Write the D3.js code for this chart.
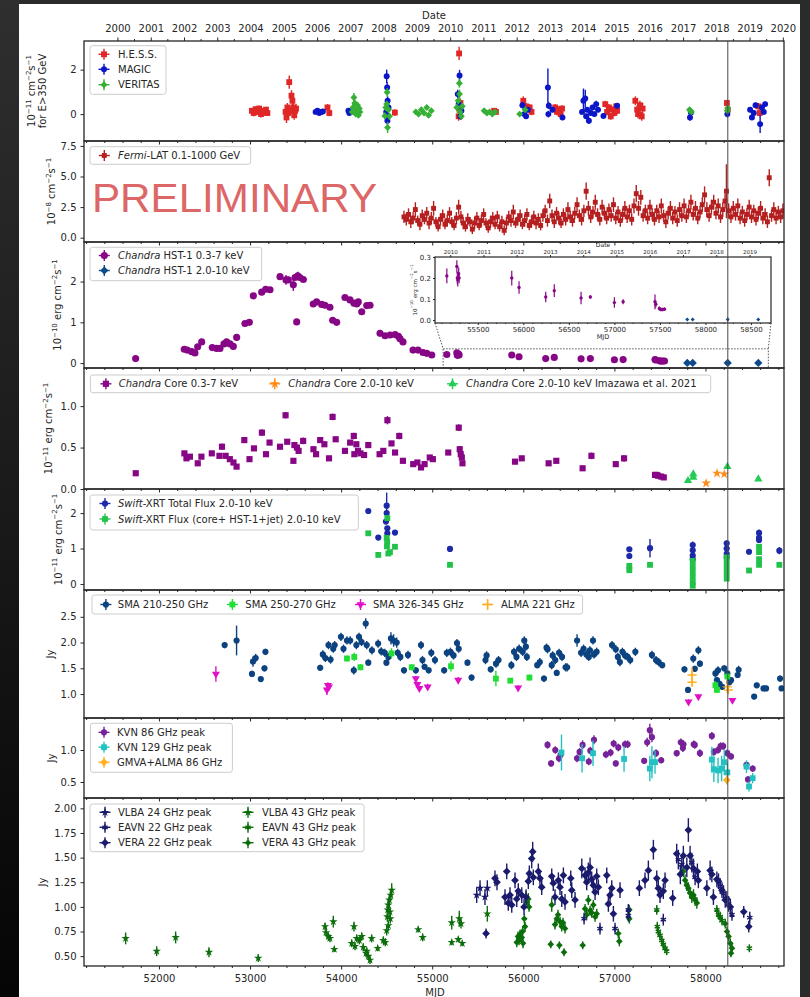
<!DOCTYPE html>
<html>
<head>
<meta charset="utf-8">
<script src="https://cdn.jsdelivr.net/npm/d3@7/dist/d3.min.js"></script>
<style>
  html, body { margin: 0; padding: 0; background: #2b2b2b; }
  svg { display: block; }
</style>
</head>
<body>
<svg id="chart" width="810" height="997"></svg>
<script>
// ---------------- data: [MJD, value, error] ----------------
const hess = [[53020,0.15,0.12],[53040,0.05,0.15],[53060,0.22,0.13],[53080,0.1,0.12],[53100,0.25,0.14],[53120,0.0,0.15],[53140,0.15,0.12],[53160,0.08,0.15],[53175,0.2,0.13],[53190,0.05,0.14],
  [53390,0.1,0.2],[53400,-0.15,0.25],[53410,0.3,0.2],[53420,0.05,0.2],[53430,1.44,0.3],[53440,0.15,0.2],[53455,0.83,0.25],[53465,0.6,0.3],[53475,0.3,0.2],[53485,-0.05,0.2],[53495,0.15,0.2],[53505,0.25,0.22],
  [53850,0.3,0.15],[53870,0.05,0.15],[54590,0.07,0.15],[55295,2.73,0.3],[55300,0.2,0.2],[55310,0.5,0.2],[55290,-0.1,0.2],
  [55680,0.15,0.12],[55700,0.1,0.12],[56000,0.6,0.2],[56030,0.35,0.15],[56070,0.3,0.15],[56090,0.1,0.15],
  [56350,0.3,0.15],[56370,0.1,0.15],[56390,0.2,0.15],[56410,0.0,0.15],[56425,0.25,0.15],
  [56900,0.45,0.15],[56920,0.1,0.15],[56940,0.3,0.15],[56960,-0.1,0.15],[56980,0.2,0.15],[57000,0.05,0.15],[57020,0.35,0.15],[57030,0.15,0.15],
  [57230,0.6,0.2],[57250,0.2,0.2],[57260,0.0,0.2],[57280,0.4,0.2],[57300,-0.1,0.2],[57310,0.25,0.25],
  [58235,0.5,0.15],[58245,0.2,0.15],[58580,0.35,0.15],[58595,0.05,0.15]];
const magic = [[53720,0.1,0.1],[53740,0.15,0.1],[53760,0.05,0.1],[53780,0.1,0.1],[53800,0.12,0.1],[54080,0.15,0.1],[54090,0.05,0.1],
  [54500,1.7,0.3],[54505,1.2,0.25],[54510,0.6,0.2],[54520,0.3,0.15],[54515,-0.08,0.15],[54508,-0.3,0.2],[54495,0.1,0.15],
  [55300,1.74,0.25],[55280,0.9,0.2],[55290,0.45,0.15],[55320,0.15,0.15],[55310,-0.1,0.15],
  [56010,0.0,0.12],[56030,-0.1,0.12],[55990,0.4,0.15],[56050,0.2,0.12],
  [56270,1.2,0.85],[56280,0.38,0.15],[56275,0.0,0.15],[56320,0.2,0.12],[56430,-0.15,0.12],
  [56645,0.1,0.12],[56660,0.6,0.55],[56680,0.7,0.4],[56700,0.2,0.12],[56720,-0.3,0.15],[56740,0.05,0.12],[56760,0.3,0.12],[56780,0.0,0.12],[56800,0.45,0.15],[56820,0.2,0.12],[56690,-0.1,0.12],
  [56880,-0.08,0.12],[57030,0.38,0.12],[57830,-0.15,0.15],[57840,0.07,0.1],[58240,0.0,0.15],
  [58490,0.2,0.12],[58510,-0.15,0.12],[58530,0.05,0.12],[58550,0.4,0.12],[58600,-0.45,0.4],[58620,0.3,0.12],[58640,0.1,0.12],[58655,0.45,0.12]];
const veritas = [[54120,0.1,0.12],[54130,0.3,0.15],[54140,0.75,0.2],[54150,0.5,0.15],[54160,0.0,0.12],[54170,0.2,0.12],[54180,0.4,0.15],[54190,-0.05,0.12],[54200,0.25,0.12],[54207,0.1,0.12],
  [54505,0.98,0.2],[54500,0.45,0.15],[54480,-0.08,0.15],[54520,0.2,0.15],[54510,-0.6,0.25],[54530,-0.1,0.15],[54490,0.3,0.15],
  [54820,0.1,0.1],[54850,0.0,0.1],[54880,0.2,0.1],[54910,0.05,0.1],[54940,0.3,0.1],[54960,-0.05,0.1],[54990,0.15,0.1],
  [55298,1.39,0.2],[55300,0.9,0.2],[55270,0.3,0.15],[55285,0.6,0.15],[55305,0.1,0.15],[55320,-0.1,0.15],[55330,0.35,0.15],
  [55570,0.15,0.1],[55600,0.05,0.1],[55630,0.1,0.1],[55660,0.0,0.1],[55690,0.1,0.1],[55960,0.0,0.1],[56020,0.2,0.1],
  [57835,0.15,0.1],[57845,0.1,0.1],[57825,0.2,0.1],[58245,0.27,0.1],[58240,0.15,0.1]];

const fermi = [[54690,1.7,0.5],[54715,1.5,0.5],[54740,1.9,0.5],[54765,1.3,0.5],[54790,1.6,0.5],[54815,2.3,0.6],[54840,1.4,0.4],[54865,1.1,0.5],[54890,1.8,0.5],[54915,1.5,0.4],
  [54940,2.0,0.5],[54965,1.2,0.5],[54990,1.6,0.5],[55015,2.4,0.6],[55040,1.3,0.4],[55065,0.9,0.4],[55090,1.5,0.5],[55115,1.8,0.5],[55140,1.1,0.4],[55165,1.4,0.5],
  [55190,2.0,0.5],[55215,1.3,0.4],[55240,1.0,0.4],[55265,1.6,0.5],[55290,2.5,0.6],[55315,1.7,0.5],[55340,1.2,0.5],[55365,0.9,0.4],[55390,1.5,0.5],[55415,1.3,0.4],
  [55440,0.7,0.4],[55465,1.2,0.5],[55490,1.6,0.5],[55515,1.0,0.4],[55540,1.4,0.5],[55565,1.9,0.5],[55590,1.2,0.4],[55615,0.8,0.4],[55640,1.3,0.5],[55665,1.6,0.5],
  [55690,1.1,0.4],[55715,1.7,0.5],[55740,0.9,0.4],[55765,1.3,0.5],[55790,0.6,0.4],[55815,1.2,0.5],[55840,1.7,0.5],[55865,1.4,0.5],[55890,2.1,0.6],[55915,1.2,0.4],
  [55940,1.5,0.5],[55965,1.8,0.5],[55990,1.1,0.4],[56015,1.4,0.5],[56040,1.9,0.5],[56065,1.0,0.4],[56090,1.3,0.5],[56115,1.7,0.5],[56140,1.2,0.5],[56165,1.5,0.5],
  [56190,1.0,0.4],[56215,1.8,0.5],[56240,2.2,0.5],[56265,1.4,0.5],[56290,3.0,0.6],[56315,1.8,0.5],[56340,1.3,0.5],[56365,2.0,0.5],[56390,1.6,0.5],[56415,1.2,0.4],
  [56440,1.9,0.5],[56465,1.5,0.5],[56490,2.3,0.6],[56515,1.7,0.5],[56540,1.4,0.5],[56565,2.0,0.5],[56590,2.7,0.6],[56615,1.8,0.5],[56640,1.5,0.5],[56665,2.2,0.5],
  [56690,3.8,0.7],[56715,2.4,0.6],[56740,1.7,0.5],[56765,2.1,0.5],[56790,2.9,0.6],[56815,1.9,0.5],[56840,1.5,0.5],[56865,2.5,0.6],[56890,2.0,0.5],[56915,1.6,0.5],
  [56940,2.3,0.5],[56965,1.8,0.5],[56990,2.7,0.6],[57015,1.6,0.5],[57040,2.1,0.5],[57065,1.4,0.5],[57090,1.9,0.5],[57115,2.4,0.6],[57140,1.7,0.5],[57165,2.2,0.5],
  [57190,1.5,0.5],[57215,2.6,0.6],[57240,3.6,0.7],[57265,2.4,0.6],[57290,3.3,0.6],[57315,1.8,0.5],[57340,2.2,0.5],[57365,1.6,0.5],[57390,2.5,0.6],[57415,1.9,0.5],
  [57440,1.5,0.5],[57465,2.2,0.5],[57490,1.7,0.5],[57515,2.6,0.6],[57540,1.8,0.5],[57565,1.3,0.5],[57590,2.0,0.5],[57615,2.4,0.6],[57640,1.6,0.5],[57665,2.1,0.5],
  [57690,1.4,0.5],[57715,2.3,0.6],[57740,1.8,0.5],[57765,2.6,0.6],[57790,1.7,0.5],[57815,2.2,0.5],[57840,2.9,0.6],[57865,1.9,0.5],[57890,2.4,0.6],[57915,1.6,0.5],
  [57940,2.1,0.5],[57965,2.7,0.6],[57990,3.5,0.7],[58015,2.3,0.6],[58040,1.8,0.5],[58065,2.5,0.6],[58090,2.9,0.6],[58115,2.0,0.5],[58140,2.6,0.6],[58165,1.7,0.5],
  [58190,2.3,0.6],[58215,3.0,0.6],[58230,3.8,2.2],[58255,2.2,0.6],[58280,1.7,0.5],[58305,2.4,0.6],[58330,1.9,0.5],[58355,2.6,0.6],[58380,1.6,0.5],[58405,2.1,0.5],
  [58430,1.4,0.5],[58455,1.9,0.5],[58480,2.5,0.6],[58505,1.7,0.5],[58530,2.2,0.5],[58555,1.5,0.5],[58580,2.0,0.5],[58605,2.4,0.6],[58630,1.6,0.5],[58655,1.9,0.5],
  [58680,1.3,0.5],[58700,4.9,0.7],[58725,1.8,0.5],[58750,2.3,0.6],[58775,1.6,0.5],[58800,2.1,0.5],[58825,1.7,0.5],[58850,2.2,0.6]];

const hst1Soft = [[51744,0.11,0.01],[52278,0.34,0.02],[52311,0.32,0.02],[52359,0.28,0.02],[52395,0.25,0.02],[52425,0.40,0.02],[52469,0.52,0.02],
  [52585,0.38,0.02],[52633,0.36,0.02],[52670,0.36,0.02],[52714,0.47,0.02],[52743,0.52,0.02],[52780,0.47,0.02],[52816,0.41,0.02],[52853,0.63,0.02],
  [52944,0.97,0.03],[52992,1.0,0.03],[53036,1.65,0.03],[53128,1.74,0.03],[53172,1.81,0.03],[53219,1.8,0.03],[53329,2.12,0.03],[53395,2.04,0.12],[53420,2.04,0.05],
  [53475,1.92,0.15],[53494,2.1,0.05],[53524,2.14,0.1],[53548,2.1,0.04],[53585,2.05,0.04],[53512,1.01,0.03],[53694,1.45,0.03],[53731,1.5,0.03],[53786,1.44,0.03],
  [53822,1.42,0.03],[53877,1.37,0.03],[53907,1.05,0.03],[53951,1.0,0.03],[54042,1.61,0.03],[54097,1.55,0.03],[54141,1.47,0.03],[54171,1.45,0.03],[54188,1.5,0.03],
  [54226,1.26,0.03],[54281,1.41,0.03],[54317,1.42,0.03],[54427,0.73,0.02],[54482,0.67,0.02],[54537,0.69,0.02],[54592,0.70,0.02],[54629,0.66,0.02],
  [54646,0.60,0.02],[54679,0.52,0.02],[54789,0.32,0.02],[54844,0.32,0.02],[54899,0.26,0.02],[54940,0.24,0.02],[54995,0.20,0.02],
  [55160,0.21,0.035],[55270,0.255,0.03],[55275,0.20,0.03],[55280,0.19,0.03],[55290,0.22,0.03],[55295,0.20,0.025],[55873,0.20,0.035],[55953,0.155,0.03],
  [56246,0.11,0.025],[56340,0.14,0.03],[56634,0.105,0.03],[56736,0.11,0.008],[57000,0.083,0.025],[57096,0.087,0.012],[57446,0.087,0.035],[57455,0.075,0.015],
  [57494,0.055,0.01],[57510,0.05,0.008],[57530,0.05,0.008],[57550,0.052,0.008]];
const hst1Hard = [[57800,0.003,0.002],[57860,0.003,0.002],[58244,0.003,0.01],[58580,0.003,0.002]];

const coreSoft = [[51745,0.19,0.03],[52279,0.43,0.03],[52302,0.37,0.03],[52340,0.39,0.03],[52426,0.31,0.03],[52466,0.39,0.03],[52580,0.43,0.03],[52664,0.40,0.03],
  [52692,0.51,0.04],[52732,0.40,0.03],[52778,0.36,0.03],[52818,0.32,0.03],[52852,0.27,0.03],[52937,0.59,0.03],[52994,0.36,0.03],[53043,0.49,0.03],[53130,0.68,0.04],
  [53175,0.42,0.03],[53214,0.56,0.03],[53329,0.51,0.03],[53390,0.89,0.04],[53408,0.57,0.03],[53476,0.34,0.03],[53487,0.53,0.03],[53515,0.50,0.03],[53533,0.46,0.03],
  [53583,0.58,0.04],[53696,0.48,0.03],[53725,0.42,0.03],[53770,0.59,0.03],[53816,0.54,0.03],[53867,0.37,0.03],[53906,0.87,0.04],[53940,0.60,0.03],[54042,0.46,0.03],
  [54099,0.56,0.03],[54139,0.64,0.04],[54167,0.54,0.03],[54145,0.42,0.03],[54185,0.46,0.03],[54212,0.43,0.03],[54252,0.41,0.03],[54298,0.53,0.03],[54422,0.42,0.03],
  [54463,0.46,0.03],[54508,0.83,0.05],[54553,0.55,0.03],[54592,0.44,0.03],[54638,0.64,0.04],[54678,0.34,0.03],[54791,0.30,0.03],[54837,0.32,0.03],[54877,0.26,0.03],
  [54916,0.30,0.03],[54973,0.38,0.03],[55007,0.36,0.03],[55176,0.44,0.03],[55291,0.74,0.04],[55302,0.48,0.04],[55313,0.42,0.04],[55325,0.38,0.03],[55332,0.31,0.03],
  [55909,0.33,0.03],[55983,0.37,0.03],[56278,0.31,0.03],[56362,0.34,0.03],[56651,0.25,0.03],[56748,0.40,0.04],[57015,0.30,0.03],[57106,0.37,0.04],
  [57446,0.17,0.03],[57463,0.17,0.03],[57479,0.16,0.03],[57514,0.15,0.03],[57542,0.14,0.03]];
const coreHard = [[58007,0.07,0.02],[58126,0.19,0.02],[58206,0.18,0.02]];
const coreImazawa = [[57808,0.10,0.01],[57866,0.18,0.02],[57866,0.14,0.02],[58240,0.27,0.02],[58580,0.12,0.01]];

const swiftTotal = [[54298,2.06,0.03],[54408,1.31,0.03],[54500,2.21,0.37],[54500,2.0,0.05],[54492,1.76,0.05],[54507,1.57,0.05],[54507,1.43,0.05],[54591,1.45,0.05],
  [55195,0.99,0.03],[57164,0.98,0.05],[57164,0.79,0.05],[57391,1.01,0.26],[57860,1.1,0.1],[57860,0.95,0.05],[57860,0.8,0.05],[57860,0.7,0.05],
  [58233,1.15,0.08],[58233,1.0,0.05],[58233,0.85,0.05],[58233,0.75,0.05],[58478,0.91,0.05],[58588,1.44,0.1],[58588,1.3,0.06],[58588,1.24,0.06],[58811,0.94,0.1]];
const swiftSum = [[54298,1.43,0.03],[54408,0.82,0.03],[54507,1.86,0.05],[54500,1.3,0.05],[54503,1.06,0.05],[54505,1.2,0.05],[54518,0.86,0.05],[54536,0.9,0.05],[54591,1.05,0.05],
  [55195,0.54,0.03],[57164,0.51,0.05],[57164,0.39,0.05],[57391,0.54,0.05],[57860,0.65,0.05],[57860,0.5,0.05],[57860,0.35,0.05],[57860,0.2,0.05],[57860,0.05,0.05],[57860,-0.05,0.05],
  [58233,0.75,0.05],[58233,0.6,0.05],[58233,0.45,0.05],[58233,0.3,0.05],[58233,0.15,0.05],[58478,0.38,0.03],[58588,1.05,0.06],[58588,0.9,0.06],[58588,0.7,0.06],[58588,0.54,0.05],[58811,0.54,0.03]];

const sma230 = [[52721,1.95,0.06],[52852,2.04,0.29],[53021,1.39,0.06],[53032,1.63,0.1],[53062,1.70,0.08],[53118,1.29,0.05],[53158,1.50,0.06],[53169,1.82,0.06],
  [53770,1.51,0.06],[53799,1.77,0.08],[53827,1.70,0.08],[53861,1.95,0.08],[53884,1.67,0.08],[53913,1.88,0.08],[53929,1.95,0.08],[53998,2.11,0.08],[54026,1.88,0.08],
  [54064,2.04,0.08],[54099,2.04,0.08],[54139,1.46,0.08],[54167,1.95,0.08],[54196,2.11,0.08],[54224,2.01,0.08],[54270,2.37,0.1],[54281,1.95,0.08],[54298,1.61,0.06],
  [54338,1.85,0.08],[54406,1.98,0.08],[54440,1.83,0.08],[54479,1.80,0.08],[54497,1.61,0.06],[54519,1.72,0.08],[54547,2.08,0.12],[54576,2.04,0.12],[54610,2.00,0.1],
  [54621,1.80,0.08],[54650,1.72,0.08],[54690,1.46,0.06],[54734,1.76,0.08],[54820,1.46,0.06],[54877,1.95,0.08],[54893,1.66,0.08],[54916,1.53,0.06],[54961,1.46,0.06],
  [54990,1.80,0.08],[55030,1.66,0.08],[55131,1.46,0.06],[55160,1.80,0.08],[55200,1.82,0.08],[55234,1.75,0.08],[55272,1.99,0.08],[55291,1.88,0.08],[55387,1.61,0.06],
  [55432,1.32,0.06],[55585,1.66,0.08],[55597,1.75,0.08],[55642,1.48,0.06],[55700,1.59,0.08],[55728,1.66,0.08],[55869,1.56,0.08],[55898,1.82,0.08],[55925,1.72,0.08],
  [55954,1.88,0.08],[55993,1.82,0.08],[56011,2.04,0.08],[56028,1.92,0.08],[56039,1.72,0.08],[56153,1.56,0.06],[56181,1.62,0.08],[56227,1.30,0.06],[56255,1.90,0.08],
  [56266,1.87,0.08],[56312,1.56,0.08],[56322,1.75,0.08],[56351,1.66,0.08],[56367,1.41,0.06],[56392,1.80,0.08],[56425,1.72,0.08],[56464,1.52,0.08],[56481,1.52,0.08],
  [56590,2.04,0.12],[56634,1.80,0.08],[56662,1.88,0.08],[56692,1.77,0.08],[56719,1.72,0.08],[56731,1.85,0.08],[56765,2.04,0.08],[56776,1.77,0.08],[56805,1.82,0.08],
  [56974,1.95,0.08],[57015,1.87,0.08],[57038,1.72,0.08],[57060,1.62,0.08],[57088,1.82,0.08],[57117,1.75,0.08],[57145,1.72,0.08],[57174,1.66,0.08],[57230,1.82,0.08],
  [57412,1.76,0.08],[57457,1.66,0.08],[57486,1.62,0.08],[57525,1.56,0.06],[57769,1.48,0.06],[57808,1.08,0.05],[57866,1.69,0.08],[57883,1.49,0.06],[57922,1.85,0.08],
  [57939,1.59,0.06],[58109,1.40,0.08],[58126,1.27,0.06],[58138,1.46,0.08],[58154,1.20,0.06],[58183,1.14,0.06],[58206,1.50,0.06],[58240,1.40,0.06],[58262,1.23,0.06],
  [58280,1.27,0.06],[58353,1.37,0.06],[58364,1.47,0.08],[58534,0.95,0.05],[58563,1.17,0.05],[58637,1.11,0.05],[58665,1.11,0.05],[58819,1.30,0.06],[58835,1.11,0.05]];
const sma260 = [[54064,1.69,0.06],[54144,1.72,0.08],[54212,1.52,0.06],[54553,1.79,0.1],[54775,1.52,0.06],[55206,1.54,0.1],[55699,1.30,0.15],[55857,1.26,0.05],
  [56067,1.32,0.06],[58109,1.17,0.08],[58126,1.08,0.06],[58240,1.34,0.06]];
const sma345 = [[52625,1.39,0.15],[53855,1.17,0.06],[53866,1.14,0.06],[53844,1.08,0.1],[54820,1.30,0.05],[54837,1.19,0.05],[54859,1.11,0.05],[54950,1.14,0.06],
  [55285,1.27,0.06],[55943,1.12,0.05],[57814,0.85,0.05],[57922,0.95,0.04],[58296,0.88,0.04]];
const alma221 = [[57853,1.37,0.15],[57853,1.23,0.08],[58240,1.14,0.12],[58251,1.08,0.06]];

const kvn86 = [[56266,1.08,0.06],[56305,0.79,0.05],[56351,1.0,0.06],[56391,0.87,0.06],[56408,0.92,0.06],[56590,0.87,0.06],[56618,0.97,0.06],[56651,1.08,0.07],
  [56719,0.82,0.06],[56736,0.99,0.06],[56776,1.16,0.07],[56907,0.93,0.06],[56958,0.96,0.06],[56992,1.1,0.06],[57015,0.79,0.05],[57043,1.04,0.06],[57117,1.09,0.06],
  [57145,1.09,0.06],[57327,0.83,0.05],[57360,1.12,0.07],[57389,1.31,0.1],[57412,1.2,0.08],[57457,0.95,0.06],[57514,0.84,0.05],[57684,0.95,0.05],[57729,1.12,0.06],
  [57752,1.03,0.06],[57758,1.09,0.06],[57871,1.09,0.06],[57882,1.08,0.06],[57939,0.95,0.06],[58070,1.22,0.06],[58092,0.97,0.06],[58138,1.0,0.06],[58166,1.06,0.06],
  [58194,1.06,0.06],[58240,0.95,0.06],[58280,0.9,0.05],[58450,0.77,0.05],[58467,0.54,0.05],[58518,0.71,0.05]];
const kvn129 = [[56419,0.96,0.28],[56645,0.87,0.22],[56765,0.95,0.2],[57106,0.86,0.2],[57389,0.71,0.2],[57412,0.81,0.25],[57446,0.81,0.18],[58070,0.85,0.2],
  [58092,0.70,0.2],[58138,0.68,0.2],[58177,0.71,0.2],[58206,0.81,0.2],[58240,0.65,0.15],[58450,0.74,0.1],[58478,0.43,0.08],[58518,0.56,0.08]];
const gmva86 = [[58234,0.53,0.07]];

const vlba24 = [[55488,1.12,0.08],[55525,1.19,0.08],[55579,1.10,0.08],[55605,1.19,0.08]];
const eavn22 = [[56667,0.88,0.06],[56842,0.78,0.06],[57007,0.78,0.06],[57153,0.97,0.06],[57153,0.91,0.06],[57537,0.87,0.06],[57702,1.48,0.1],[57740,1.43,0.1],
  [57850,1.45,0.1],[57886,1.30,0.08],[58162,1.21,0.08],[58198,1.14,0.08],[58254,1.03,0.08],[58291,0.92,0.06],[58486,0.89,0.06]];
const vera22 = [[55591,0.73,0.05],[55689,1.29,0.08],[55711,1.25,0.08],[55818,1.36,0.08],[55799,1.10,0.08],[55835,1.04,0.08],[55854,1.12,0.08],[55873,1.02,0.08],
  [55909,1.27,0.08],[55928,1.08,0.08],[55945,1.16,0.08],[55983,1.12,0.08],[56008,1.0,0.08],[56030,1.10,0.08],[56055,1.26,0.08],[56066,1.34,0.08],[56092,1.49,0.1],
  [56103,1.56,0.1],[56110,1.30,0.08],[56165,1.36,0.08],[56183,1.29,0.08],[56202,1.20,0.08],[56312,1.31,0.08],[56329,1.24,0.08],[56348,1.10,0.08],[56385,1.27,0.08],
  [56403,1.20,0.08],[56422,1.08,0.08],[56440,1.32,0.08],[56458,1.05,0.08],[56521,1.29,0.08],[56532,1.17,0.08],[56568,1.07,0.08],[56642,1.39,0.1],[56678,1.32,0.08],
  [56696,1.25,0.08],[56714,1.35,0.1],[56733,1.40,0.1],[56751,1.28,0.08],[56769,1.22,0.08],[56788,1.15,0.08],[56806,1.31,0.08],[56824,1.20,0.08],[56916,1.32,0.08],
  [56934,1.03,0.08],[56952,1.12,0.08],[56971,1.19,0.08],[56989,0.93,0.08],[57062,1.17,0.08],[57274,1.19,0.08],[57336,1.27,0.08],[57373,1.37,0.1],[57428,1.58,0.1],
  [57465,1.29,0.08],[57482,1.19,0.08],[57501,1.12,0.08],[57537,1.16,0.08],[57556,1.27,0.08],[57640,1.09,0.08],[57684,1.54,0.1],[57724,1.33,0.1],[57757,1.52,0.1],
  [57795,1.40,0.1],[57812,1.78,0.12],[57831,1.52,0.1],[57868,1.39,0.1],[57911,1.36,0.08],[57922,1.27,0.08],[58015,1.19,0.08],[58051,1.37,0.1],[58070,1.33,0.08],
  [58087,1.10,0.08],[58125,1.28,0.08],[58143,1.26,0.08],[58181,1.17,0.08],[58217,1.07,0.08],[58236,1.08,0.08],[58273,1.0,0.08],[58420,0.95,0.06],[58475,0.80,0.06]];
const vlba43 = [[51634,0.68,0.06],[51975,0.55,0.05],[52183,0.69,0.06],[52549,0.54,0.05],[53090,0.48,0.04],[53823,0.80,0.04],[53834,0.74,0.04],[53859,0.70,0.04],
  [53877,0.68,0.04],[53914,0.85,0.06],[53925,0.57,0.03],[54141,0.80,0.05],[54116,0.63,0.04],[54152,0.60,0.04],[54171,0.68,0.04],[54200,0.66,0.04],[54226,0.70,0.04],
  [54243,0.59,0.04],[54273,0.53,0.04],[54281,0.55,0.04],[54298,0.50,0.04],[54317,0.46,0.04],[54335,0.68,0.04],[54401,0.58,0.03],[54463,0.66,0.04],[54485,0.64,0.04],
  [54500,0.76,0.05],[54507,0.90,0.05],[54511,0.97,0.05],[54518,1.02,0.05],[54529,1.07,0.06],[54544,1.12,0.06],[54555,1.17,0.07],[54536,0.95,0.05],[54540,0.88,0.05],
  [54518,0.81,0.05],[54846,0.77,0.03],[54895,0.69,0.04],[55214,0.84,0.07],[55214,0.64,0.03],[55297,0.88,0.08],[55316,0.83,0.05],[55286,0.67,0.03],[55330,0.63,0.03],[55605,0.93,0.08]];
const eavn43 = [[57465,0.97,0.05],[57471,0.80,0.05],[57482,0.75,0.05],[57501,0.71,0.05],[57520,0.66,0.05],[57537,0.62,0.05],[57556,0.58,0.05],[57574,0.55,0.04],
  [58125,0.97,0.05],[58143,0.92,0.05],[58162,0.90,0.05],[58181,0.86,0.05],[58482,0.58,0.04]];
const vera43 = [[55928,0.64,0.05],[55942,0.70,0.05],[55953,0.66,0.05],[55964,0.72,0.05],[55983,0.69,0.05],[55992,0.75,0.05],[55997,0.63,0.05],[56011,0.88,0.05],
  [56019,0.80,0.05],[56030,1.10,0.06],[56041,1.05,0.06],[56055,1.08,0.06],[56063,1.0,0.05],[56312,1.02,0.07],[56301,0.62,0.04],[56396,0.61,0.04],[56447,0.54,0.04],
  [56348,0.82,0.05],[56367,0.88,0.05],[56381,0.92,0.05],[56403,0.85,0.05],[56422,0.80,0.05],[56436,0.84,0.05],[56458,0.78,0.05],[56652,0.61,0.04],[56678,0.98,0.05],
  [56696,0.92,0.05],[56714,1.07,0.05],[56733,0.96,0.05],[56751,0.94,0.05],[56769,1.02,0.05],[56788,0.90,0.05],[56806,0.93,0.05],[57043,0.73,0.05],[57054,0.65,0.05],
  [57164,0.97,0.05],[57164,0.88,0.05],[57757,1.36,0.06],[57776,1.27,0.06],[57795,1.22,0.06],[57812,1.19,0.06],[57831,1.14,0.06],[57850,1.10,0.06],[57868,1.12,0.06],
  [57886,1.07,0.06],[57905,1.04,0.06],[58217,0.83,0.05],[58236,0.75,0.05],[58254,0.70,0.05],[58273,0.63,0.05],[58291,0.58,0.05],[58280,0.53,0.04]];

// ---------------- axis ticks ----------------
const yearLabels = ['2000','2001','2002','2003','2004','2005','2006','2007','2008','2009','2010','2011','2012','2013','2014','2015','2016','2017','2018','2019','2020'];
const yearMJD = [51544,51910,52275,52640,53005,53371,53736,54101,54466,54832,55197,55562,55927,56293,56658,57023,57388,57754,58119,58484,58849];
const mjdMajor = [52000,53000,54000,55000,56000,57000,58000];
const insetMJD = [55500,56000,56500,57000,57500,58000,58500];
const insetYears = ['2010','2011','2012','2013','2014','2015','2016','2017','2018','2019'];
const insetYearMJD = [55197,55562,55927,56293,56658,57023,57388,57754,58119,58484];
const yTicks = [[0,2],[0,2.5,5,7.5],[0,1,2],[0,0.5,1],[0,1,2],[1,1.5,2,2.5],[0.5,1],[0.5,0.75,1,1.25,1.5,1.75,2]];
const yLabels = [['10^{−11} cm^{−2}s^{−1}','for E>350 GeV'],['10^{−8} cm^{−2}s^{−1}'],['10^{−10} erg cm^{−2}s^{−1}'],['10^{−11} erg cm^{−2}s^{−1}'],
  ['10^{−11} erg cm^{−2}s^{−1}'],['Jy'],['Jy'],['Jy']];
const campaignMJD = 58245;

// ---------------- drawing ----------------
const FONT = '"DejaVu Sans", sans-serif';
const INK = '#262626';
const svg = d3.select('#chart');
const defs = svg.append('defs');
const edge = defs.append('linearGradient').attr('id', 'edge').attr('x1', 0).attr('y1', 0).attr('x2', 0).attr('y2', 1);
edge.append('stop').attr('offset', '0').attr('stop-color', '#2f2f2f');
edge.append('stop').attr('offset', '1').attr('stop-color', '#050505');
svg.append('rect').attr('width', 810).attr('height', 997).attr('fill', '#2b2b2b');
svg.append('rect').attr('width', 19).attr('height', 997).attr('fill', 'url(#edge)');
svg.append('rect').attr('x', 19).attr('y', 4).attr('width', 781).attr('height', 993).attr('fill', '#ffffff');

const x = d3.scaleLinear().domain([51177, 58862]).range([84, 784]);
const tops = [41, 141, 242, 368, 489, 590, 718, 798, 966];
const domains = [[-1.21, 3.29], [-0.35, 7.9], [-0.12, 2.97], [0, 1.46], [-0.17, 2.68], [0.535, 3.02], [0.25, 1.5], [0.40, 2.105]];
const formats = ['d', '.1f', 'd', '.1f', 'd', '.1f', '.1f', '.2f'];
const labelX = [[35, 45.5], [55], [61], [52], [61.5], [54.4], [54.6], [45.6]];

const SYM = { circle: d3.symbolCircle, square: d3.symbolSquare, D: d3.symbolSquare, tri: d3.symbolTriangle,
  triDown: d3.symbolTriangle, star: d3.symbolStar, asterisk: d3.symbolAsterisk, plus: d3.symbolPlus };

function drawMarker(sel, st) {
  const rot = st.shape === 'D' ? 45 : st.shape === 'triDown' ? 180 : 0;
  const stroked = st.shape === 'asterisk' || st.shape === 'plus';
  sel.attr('d', d3.symbol(SYM[st.shape], st.size)())
    .attr('fill', stroked ? 'none' : st.color)
    .attr('stroke', stroked ? st.color : 'none').attr('stroke-width', 1.4);
  return rot;
}

function series(g, xs, ys, data, st) {
  const s = g.append('g');
  s.selectAll('line.ey').data(data.filter(d => d[2])).join('line').attr('class', 'ey')
    .attr('x1', d => xs(d[0])).attr('x2', d => xs(d[0]))
    .attr('y1', d => ys(d[1] - d[2])).attr('y2', d => ys(d[1] + d[2]))
    .attr('stroke', st.color).attr('stroke-width', st.ew || 1.4);
  if (st.xerr) {
    s.selectAll('line.ex').data(data).join('line').attr('class', 'ex')
      .attr('x1', d => xs(d[0] - st.xerr)).attr('x2', d => xs(d[0] + st.xerr))
      .attr('y1', d => ys(d[1])).attr('y2', d => ys(d[1]))
      .attr('stroke', st.color).attr('stroke-width', st.ew || 1.4);
  }
  const m = s.selectAll('path').data(data).join('path');
  const rot = drawMarker(m, st);
  m.attr('transform', d => `translate(${xs(d[0])},${ys(d[1])}) rotate(${rot})`);
}

function richText(t, str, supSize) {
  const parts = str.split(/\^\{([^}]*)\}/);
  parts.forEach((p, i) => {
    if (!p) return;
    if (i % 2) {
      t.append('tspan').attr('dy', -4.2).attr('font-size', supSize).text(p);
    } else {
      const sp = t.append('tspan').text(p);
      if (i > 0) sp.attr('dy', 4.2);
    }
  });
}

function legend(g, box, items) {
  g.append('rect').attr('x', box[0]).attr('y', box[1]).attr('width', box[2]).attr('height', box[3])
    .attr('rx', 2.5).attr('fill', '#fff').attr('fill-opacity', 0.85).attr('stroke', '#cccccc').attr('stroke-width', 1);
  items.forEach(it => {
    const [mx, my, tx] = it.pos;
    const st = it.st;
    g.append('line').attr('x1', mx - 5.5).attr('x2', mx + 5.5).attr('y1', my).attr('y2', my).attr('stroke', st.color).attr('stroke-width', 1.4);
    g.append('line').attr('x1', mx).attr('x2', mx).attr('y1', my - 5.5).attr('y2', my + 5.5).attr('stroke', st.color).attr('stroke-width', 1.4);
    const m = g.append('path');
    const rot = drawMarker(m, st);
    m.attr('transform', `translate(${mx},${my}) rotate(${rot})`);
    const t = g.append('text').attr('x', tx).attr('y', my + 3.6).attr('font-size', 10).attr('fill', INK).attr('font-family', FONT);
    it.label.forEach(([s, ital]) => t.append('tspan').attr('font-style', ital ? 'italic' : 'normal').text(s));
  });
}

function styleAxis(ax, size) {
  ax.select('.domain').remove();
  ax.selectAll('line').attr('stroke', INK).attr('stroke-width', 1);
  ax.selectAll('text').attr('font-family', FONT).attr('font-size', size).attr('fill', INK);
  ax.attr('font-family', FONT);
}

const ys = [];
const panelG = [];
for (let i = 0; i < 8; i++) {
  const y0 = tops[i], y1 = tops[i + 1];
  const y = d3.scaleLinear().domain(domains[i]).range([y1, y0]);
  ys.push(y);
  const g = svg.append('g');
  panelG.push(g);
  defs.append('clipPath').attr('id', 'clip' + i).append('rect').attr('x', 84).attr('y', y0).attr('width', 700).attr('height', y1 - y0);

  const ay = g.append('g').attr('transform', 'translate(84,0)')
    .call(d3.axisLeft(y).tickValues(yTicks[i]).tickFormat(d3.format(formats[i])).tickSize(3.5).tickPadding(4));
  styleAxis(ay, 10);
  const minor = d3.range(51200, 58862, 200).filter(v => v % 1000 !== 0);
  const axm = g.append('g').attr('transform', `translate(0,${y1})`)
    .call(d3.axisBottom(x).tickValues(minor).tickFormat('').tickSize(2));
  styleAxis(axm, 10);
  const axM = g.append('g').attr('transform', `translate(0,${y1})`)
    .call(d3.axisBottom(x).tickValues(mjdMajor).tickFormat(i === 7 ? d3.format('d') : () => '').tickSize(3.5).tickPadding(4.9));
  styleAxis(axM, 10);

  yLabels[i].forEach((lab, k) => {
    const bx = labelX[i][k], cy = (y0 + y1) / 2;
    const t = g.append('text').attr('x', bx).attr('y', cy).attr('text-anchor', 'middle')
      .attr('transform', `rotate(-90,${bx},${cy})`).attr('font-family', FONT).attr('font-size', 10).attr('fill', INK);
    richText(t, lab, 7);
  });
  g.append('g').attr('class', 'data').attr('clip-path', `url(#clip${i})`);
}

// top date axis
const topMinor = yearMJD.slice(0, -1).map(v => v + 182);
const at = svg.append('g').attr('transform', 'translate(0,41)')
  .call(d3.axisTop(x).tickValues(yearMJD).tickFormat((d, k) => yearLabels[k]).tickSize(3.5).tickPadding(6));
styleAxis(at, 10);
const atm = svg.append('g').attr('transform', 'translate(0,41)')
  .call(d3.axisTop(x).tickValues(topMinor).tickFormat('').tickSize(2));
styleAxis(atm, 10);
svg.append('text').attr('x', 434).attr('y', 19).attr('text-anchor', 'middle').attr('font-family', FONT).attr('font-size', 10).attr('fill', INK).text('Date');
svg.append('text').attr('x', 435).attr('y', 996).attr('text-anchor', 'middle').attr('font-family', FONT).attr('font-size', 10).attr('fill', INK).text('MJD');

const D = i => panelG[i].select('g.data');

// panel 1: VHE
const stHess = { shape: 'square', size: 34, color: '#e02626' };
const stMagic = { shape: 'circle', size: 28, color: '#0b16c8' };
const stVer = { shape: 'D', size: 24, color: '#35b035' };
series(D(0), x, ys[0], hess, stHess);
series(D(0), x, ys[0], magic, stMagic);
series(D(0), x, ys[0], veritas, stVer);
legend(panelG[0], [90, 45.7, 76, 48.6], [
  { pos: [104, 54.3, 118], st: stHess, label: [['H.E.S.S.', 0]] },
  { pos: [104, 69.3, 118], st: stMagic, label: [['MAGIC', 0]] },
  { pos: [104, 84.7, 118], st: stVer, label: [['VERITAS', 0]] }]);

// panel 2: Fermi
const stFermi = { shape: 'square', size: 24, color: '#b51f1f', xerr: 12 };
panelG[1].append('text').attr('x', 92).attr('y', 212).attr('font-family', '"Liberation Sans", Arial, sans-serif')
  .attr('font-size', 41).attr('fill', '#dd6666').attr('textLength', 285).attr('lengthAdjust', 'spacingAndGlyphs').text('PRELIMINARY');
series(D(1), x, ys[1], fermi, stFermi);
legend(panelG[1], [90, 146.7, 160.7, 17.6], [
  { pos: [104.3, 155.5, 118], st: stFermi, label: [['Fermi', 1], ['-LAT 0.1-1000 GeV', 0]] }]);

// panel 3: Chandra HST-1
const stH1 = { shape: 'circle', size: 40, color: '#860686' };
const stH2 = { shape: 'D', size: 34, color: '#0c4a8c' };
series(D(2), x, ys[2], hst1Soft, stH1);
series(D(2), x, ys[2], hst1Hard, stH2);
legend(panelG[2], [90, 247.3, 171.7, 33.4], [
  { pos: [104.3, 255.5, 118], st: stH1, label: [['Chandra', 1], [' HST-1 0.3-7 keV', 0]] },
  { pos: [104.3, 270.5, 118], st: stH2, label: [['Chandra', 1], [' HST-1 2.0-10 keV', 0]] }]);

// zoomed view of the late HST-1 decline
const y3 = ys[2];
const boxL = 55120, boxR = 58690, boxTop = 0.35;
const dash = '1.5,1.5';
panelG[2].append('rect').attr('x', x(boxL)).attr('y', y3(boxTop)).attr('width', x(boxR) - x(boxL)).attr('height', tops[3] - y3(boxTop))
  .attr('fill', 'none').attr('stroke', '#555').attr('stroke-dasharray', dash).attr('stroke-width', 1);
const ix = d3.scaleLinear().domain([55030, 58720]).range([435, 771]);
const iy = d3.scaleLinear().domain([-0.014, 0.3]).range([323, 257]);
const ins = svg.append('g');
ins.append('line').attr('x1', 435).attr('y1', 323).attr('x2', x(boxL)).attr('y2', y3(boxTop)).attr('stroke', '#555').attr('stroke-dasharray', dash);
ins.append('line').attr('x1', 771).attr('y1', 323).attr('x2', x(boxR)).attr('y2', y3(boxTop)).attr('stroke', '#555').attr('stroke-dasharray', dash);
ins.append('rect').attr('x', 435).attr('y', 257).attr('width', 336).attr('height', 66).attr('fill', '#fff').attr('stroke', INK).attr('stroke-width', 1.2);
series(ins, ix, iy, hst1Soft.filter(d => d[0] > 55030), { shape: 'circle', size: 9, color: '#860686', ew: 1.2 });
series(ins, ix, iy, hst1Hard, { shape: 'D', size: 8, color: '#0c4a8c', ew: 1.2 });
const iax = ins.append('g').attr('transform', 'translate(0,323)').call(d3.axisBottom(ix).tickValues(insetMJD).tickFormat(d3.format('d')).tickSize(2).tickPadding(2));
styleAxis(iax, 7);
const iaxm = ins.append('g').attr('transform', 'translate(0,323)').call(d3.axisBottom(ix).tickValues(d3.range(55100, 58720, 100).filter(v => v % 500)).tickFormat('').tickSize(1));
styleAxis(iaxm, 7);
const iay = ins.append('g').attr('transform', 'translate(435,0)').call(d3.axisLeft(iy).tickValues([0, 0.1, 0.2, 0.3]).tickFormat(d3.format('.1f')).tickSize(2).tickPadding(2));
styleAxis(iay, 7);
const iat = ins.append('g').attr('transform', 'translate(0,257)').call(d3.axisTop(ix).tickValues(insetYearMJD).tickFormat((d, k) => insetYears[k]).tickSize(2).tickPadding(1.5));
styleAxis(iat, 5.5);
ins.append('text').attr('x', 603).attr('y', 339).attr('text-anchor', 'middle').attr('font-family', FONT).attr('font-size', 6.5).attr('fill', INK).text('MJD');
ins.append('text').attr('x', 603).attr('y', 247).attr('text-anchor', 'middle').attr('font-family', FONT).attr('font-size', 6).attr('fill', INK).text('Date');
{
  const t = ins.append('text').attr('x', 417).attr('y', 290).attr('text-anchor', 'middle').attr('transform', 'rotate(-90,417,290)')
    .attr('font-family', FONT).attr('font-size', 5.5).attr('fill', INK);
  richText(t, '10^{−10} erg cm^{−2}s^{−1}', 4);
}

// panel 4: Chandra core
const stC1 = { shape: 'square', size: 38, color: '#860686' };
const stC2 = { shape: 'star', size: 30, color: '#ff8c1a' };
const stC3 = { shape: 'tri', size: 30, color: '#22cc55' };
series(D(3), x, ys[3], coreSoft, stC1);
series(D(3), x, ys[3], coreHard, stC2);
series(D(3), x, ys[3], coreImazawa, stC3);
legend(panelG[3], [90.4, 375, 620.3, 17.7], [
  { pos: [105.9, 383.8, 118.8], st: stC1, label: [['Chandra', 1], [' Core 0.3-7 keV', 0]] },
  { pos: [274.8, 383.8, 288.2], st: stC2, label: [['Chandra', 1], [' Core 2.0-10 keV', 0]] },
  { pos: [452.5, 383.8, 466], st: stC3, label: [['Chandra', 1], [' Core 2.0-10 keV Imazawa et al. 2021', 0]] }]);

// panel 5: Swift
const stS1 = { shape: 'circle', size: 30, color: '#1c2aa8' };
const stS2 = { shape: 'square', size: 34, color: '#22c24a' };
series(D(4), x, ys[4], swiftTotal, stS1);
series(D(4), x, ys[4], swiftSum, stS2);
legend(panelG[4], [90, 495, 268.3, 35], [
  { pos: [105, 503.5, 118], st: stS1, label: [['Swift', 1], ['-XRT Total Flux 2.0-10 keV', 0]] },
  { pos: [105, 519, 118], st: stS2, label: [['Swift', 1], ['-XRT Flux (core+ HST-1+jet) 2.0-10 keV', 0]] }]);

// panel 6: SMA / ALMA
const stM1 = { shape: 'circle', size: 30, color: '#0b427f' };
const stM2 = { shape: 'square', size: 34, color: '#22dd33' };
const stM3 = { shape: 'triDown', size: 28, color: '#e010c8' };
const stM4 = { shape: 'plus', size: 30, color: '#ffb020' };
series(D(5), x, ys[5], sma230, stM1);
series(D(5), x, ys[5], sma260, stM2);
series(D(5), x, ys[5], sma345, stM3);
series(D(5), x, ys[5], alma221, stM4);
legend(panelG[5], [92, 595, 490.6, 19], [
  { pos: [105.9, 604.5, 117.8], st: stM1, label: [['SMA 210-250 GHz', 0]] },
  { pos: [232.4, 604.5, 245.3], st: stM2, label: [['SMA 250-270 GHz', 0]] },
  { pos: [360.5, 604.5, 373], st: stM3, label: [['SMA 326-345 GHz', 0]] },
  { pos: [487.6, 604.5, 501], st: stM4, label: [['ALMA 221 GHz', 0]] }]);

// panel 7: KVN / GMVA
const stK1 = { shape: 'circle', size: 30, color: '#772299' };
const stK2 = { shape: 'square', size: 34, color: '#22c2c2' };
const stK3 = { shape: 'D', size: 30, color: '#ffb020' };
series(D(6), x, ys[6], kvn86, stK1);
series(D(6), x, ys[6], kvn129, stK2);
series(D(6), x, ys[6], gmva86, stK3);
legend(panelG[6], [90.4, 723.3, 142, 49], [
  { pos: [104, 732.3, 117], st: stK1, label: [['KVN 86 GHz peak', 0]] },
  { pos: [104, 747.2, 117], st: stK2, label: [['KVN 129 GHz peak', 0]] },
  { pos: [104, 762.3, 117], st: stK3, label: [['GMVA+ALMA 86 GHz', 0]] }]);

// panel 8: VLBI core peaks
const NAVY = '#1b1b6e', GREEN = '#0b6e0b';
const stV1 = { shape: 'star', size: 22, color: NAVY };
const stV2 = { shape: 'asterisk', size: 26, color: NAVY };
const stV3 = { shape: 'D', size: 30, color: NAVY };
const stV4 = { shape: 'star', size: 22, color: GREEN };
const stV5 = { shape: 'asterisk', size: 26, color: GREEN };
const stV6 = { shape: 'D', size: 22, color: GREEN };
series(D(7), x, ys[7], vlba43, stV4);
series(D(7), x, ys[7], eavn43, stV5);
series(D(7), x, ys[7], vera43, stV6);
series(D(7), x, ys[7], vlba24, stV1);
series(D(7), x, ys[7], eavn22, stV2);
series(D(7), x, ys[7], vera22, stV3);
legend(panelG[7], [90, 804, 274, 47.7], [
  { pos: [105, 812.3, 118], st: stV1, label: [['VLBA 24 GHz peak', 0]] },
  { pos: [105, 827.3, 118], st: stV2, label: [['EAVN 22 GHz peak', 0]] },
  { pos: [105, 842.7, 118], st: stV3, label: [['VERA 22 GHz peak', 0]] },
  { pos: [248, 812.3, 262], st: stV4, label: [['VLBA 43 GHz peak', 0]] },
  { pos: [248, 827.3, 262], st: stV5, label: [['EAVN 43 GHz peak', 0]] },
  { pos: [248, 842.7, 262], st: stV6, label: [['VERA 43 GHz peak', 0]] }]);

// panel frames
for (let i = 0; i < 8; i++) {
  svg.append('rect').attr('x', 84).attr('y', tops[i]).attr('width', 700).attr('height', tops[i + 1] - tops[i])
    .attr('fill', 'none').attr('stroke', INK).attr('stroke-width', 1.3);
}
// 2018 campaign marker
svg.append('line').attr('x1', x(campaignMJD)).attr('x2', x(campaignMJD)).attr('y1', 41).attr('y2', 966)
  .attr('stroke', '#4a4a4a').attr('stroke-width', 1);
</script>
</body>
</html>
